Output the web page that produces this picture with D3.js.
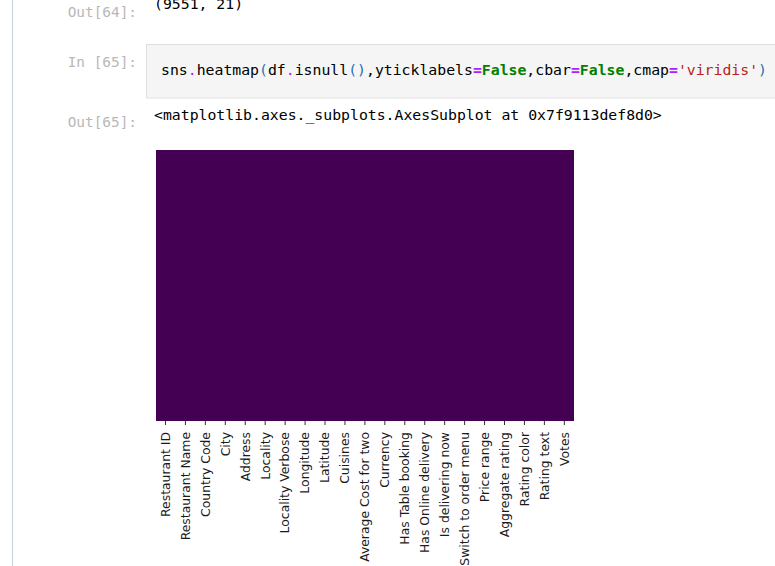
<!DOCTYPE html>
<html><head><meta charset="utf-8">
<script src="https://cdn.jsdelivr.net/npm/d3@7"></script>
<style>
html,body{margin:0;padding:0;background:#fff;overflow:hidden;}
svg{display:block;}
</style></head>
<body>
<svg id="c" width="775" height="566"></svg>
<script>
// ---- data ----
const columns = ["Restaurant ID","Restaurant Name","Country Code","City","Address","Locality","Locality Verbose","Longitude","Latitude","Cuisines","Average Cost for two","Currency","Has Table booking","Has Online delivery","Is delivering now","Switch to order menu","Price range","Aggregate rating","Rating color","Rating text","Votes"];
const nRows = 9551;
const nullCounts = [0,0,0,0,0,0,0,0,0,0,0,0,0,0,0,0,0,0,0,0,0]; // df.isnull() is False everywhere
const shapeText = "(9551, 21)";
const codeTokens = [
  ["sns","#000"],[".","#aa22ff"],["heatmap","#000"],["(","#2f6fb0"],["df","#000"],[".","#aa22ff"],["isnull","#000"],["()","#2f6fb0"],[",","#000"],
  ["yticklabels","#000"],["=","#aa22ff",1],["False","#008000",1],[",","#000"],["cbar","#000"],["=","#aa22ff",1],["False","#008000",1],[",","#000"],
  ["cmap","#000"],["=","#aa22ff",1],["'viridis'","#ba2121"],[")","#2f6fb0"]
];
const outText = "<matplotlib.axes._subplots.AxesSubplot at 0x7f9113def8d0>";

(function(){
const svg = d3.select("#c");
const mono = "'DejaVu Sans Mono', 'Liberation Mono', monospace";
const fs = 14.8;

// notebook chrome
svg.append("line").attr("x1",12.5).attr("x2",12.5).attr("y1",0).attr("y2",566).attr("stroke","#cfd5de").attr("stroke-width",1.3);
svg.append("rect").attr("x",146.5).attr("y",44.5).attr("width",640).attr("height",53.5)
  .attr("fill","#f5f5f5").attr("stroke","#e0e0e0");

const prompt = (t,yy)=>svg.append("text").attr("x",137).attr("y",yy).attr("text-anchor","end")
  .attr("font-family",mono).attr("font-size",14.4).attr("fill","#b8b8b8").text(t);
prompt("Out[64]:",17);
prompt("In [65]:",67);
prompt("Out[65]:",127);

svg.append("text").attr("x",154).attr("y",9).attr("font-family",mono).attr("font-size",fs).attr("fill","#000").text(shapeText);
svg.append("text").attr("x",154).attr("y",120).attr("font-family",mono).attr("font-size",fs).attr("fill","#000").text(outText);

const code = svg.append("text").attr("x",161).attr("y",75).attr("font-family",mono).attr("font-size",fs).attr("xml:space","preserve");
codeTokens.forEach(t=>code.append("tspan").attr("fill",t[1]).attr("font-weight",t[2]?"bold":"normal").text(t[0]));

// heatmap
const x0=155.5, x1=574.3, y0=149.5, y1=421;
const x = d3.scaleBand().domain(columns).range([x0,x1]).padding(0);
const y = d3.scaleLinear().domain([0,nRows]).range([y0,y1]);
const color = v => d3.interpolateViridis(v>0?1:0);

svg.append("g").attr("shape-rendering","crispEdges").selectAll("rect").data(columns).join("rect")
  .attr("x",d=>x(d)).attr("y",y(0)).attr("width",(d,i)=>x.bandwidth()+(i<columns.length-1?1:0)).attr("height",y(nRows)-y(0))
  .attr("fill",(d,i)=>color(nullCounts[i]));

const ax = d3.axisBottom(x).tickSize(4).tickPadding(4).tickSizeOuter(0);
const g = svg.append("g").attr("transform",`translate(0,${y1})`).call(ax);
g.select(".domain").remove();
g.selectAll(".tick line").attr("stroke","#333").attr("stroke-width",1);
g.selectAll(".tick text")
  .attr("font-family","'DejaVu Sans', sans-serif").attr("font-size",12.4).attr("fill","#1a1a1a")
  .attr("transform","rotate(-90)").attr("text-anchor","end")
  .attr("x",-11).attr("y",0).attr("dy","0.35em");
})();
</script>
</body></html>
